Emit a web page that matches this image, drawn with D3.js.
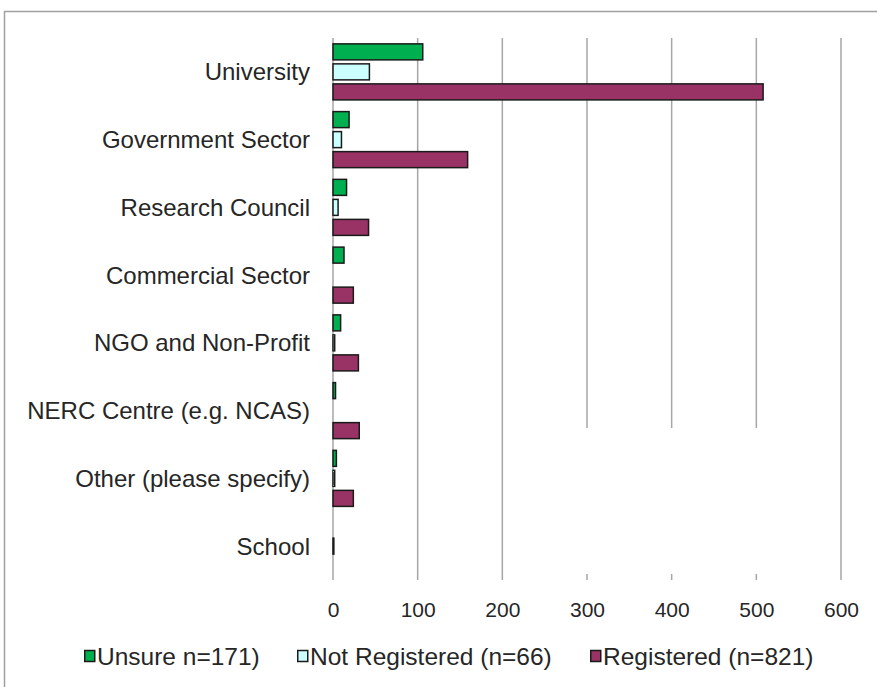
<!DOCTYPE html>
<html>
<head>
<meta charset="utf-8">
<script src="https://cdn.jsdelivr.net/npm/d3@7"></script>
<style>
  html, body { margin: 0; padding: 0; background: #fff; }
  svg { display: block; font-family: "Liberation Sans", Arial, sans-serif; }
</style>
</head>
<body>
<svg id="chart" width="877" height="687"></svg>
<script>
// Organisation types, top to bottom
const categories = [
  "University",
  "Government Sector",
  "Research Council",
  "Commercial Sector",
  "NGO and Non-Profit",
  "NERC Centre (e.g. NCAS)",
  "Other (please specify)",
  "School"
];

// Respondent counts per registration status
const unsure        = [106, 19, 16, 13, 9, 3, 4, 0];
const notRegistered = [43, 10, 6, 0, 2, 0, 2, 1];
const registered    = [508, 159, 42, 24, 30, 31, 24, 0];

const seriesNames  = ["Unsure n=171)", "Not Registered (n=66)", "Registered (n=821)"];
const seriesColors = ["#00b050", "#ccffff", "#993366"];
const xTicks = [0, 100, 200, 300, 400, 500, 600];

const seriesValues = [unsure, notRegistered, registered];

const svg = d3.select("#chart");
const textColor = "#262626";
const gridColor = "#a6a6a6";

// outer frame
svg.append("rect")
  .attr("x", 4.5).attr("y", 11.5)
  .attr("width", 900).attr("height", 700)
  .attr("fill", "none")
  .attr("stroke", "#a0a0a0")
  .attr("stroke-width", 1.5);

const plotTop = 38, plotBottom = 580;
const x = d3.scaleLinear().domain([0, 600]).range([333, 841]);
const y = d3.scaleBand().domain(categories).range([plotTop, plotBottom])
  .paddingInner(0.173).paddingOuter(0.0865);
const ySub = d3.scaleBand().domain(d3.range(seriesNames.length))
  .range([0, y.bandwidth()]).paddingInner(0.2).paddingOuter(0);

// vertical gridlines
svg.append("g").selectAll("line")
  .data(xTicks.slice(1))
  .join("line")
  .attr("x1", d => x(d)).attr("x2", d => x(d))
  .attr("y1", plotTop).attr("y2", plotBottom)
  .attr("stroke", gridColor)
  .attr("stroke-width", 1.5);

// cleared area in the lower middle of the plot
svg.append("rect")
  .attr("x", 540).attr("y", 428)
  .attr("width", 250).attr("height", 146)
  .attr("fill", "#fff");

// category axis line
svg.append("line")
  .attr("x1", x(0)).attr("x2", x(0))
  .attr("y1", plotTop).attr("y2", plotBottom)
  .attr("stroke", gridColor)
  .attr("stroke-width", 1.5);

// bars
const groups = svg.append("g").selectAll("g")
  .data(categories)
  .join("g")
  .attr("transform", d => `translate(0,${y(d)})`);

groups.selectAll("rect")
  .data((c, i) => seriesValues.map((vals, s) => ({ s, v: vals[i] })))
  .join("rect")
  .filter(d => d.v > 0)
  .attr("x", x(0))
  .attr("y", d => ySub(d.s))
  .attr("width", d => x(d.v) - x(0))
  .attr("height", ySub.bandwidth())
  .attr("fill", d => seriesColors[d.s])
  .attr("stroke", "#1a1a1a")
  .attr("stroke-width", 1.5);

// category labels
svg.append("g").selectAll("text")
  .data(categories)
  .join("text")
  .attr("x", 310)
  .attr("y", d => y(d) + y.bandwidth() / 2)
  .attr("text-anchor", "end")
  .attr("dominant-baseline", "central")
  .attr("font-size", 24)
  .attr("fill", textColor)
  .text(d => d);

// value axis labels
const xAxis = d3.axisBottom(x).tickValues(xTicks).tickSize(0).tickPadding(0);
const xg = svg.append("g")
  .attr("transform", `translate(0,${plotBottom + 22})`)
  .call(xAxis);
xg.select(".domain").remove();
xg.selectAll("text")
  .attr("font-size", 21)
  .attr("font-family", "Liberation Sans, Arial, sans-serif")
  .attr("fill", textColor);

// legend
const legendX = [84, 297, 590];
const legend = svg.append("g").selectAll("g")
  .data(seriesNames)
  .join("g")
  .attr("transform", (d, i) => `translate(${legendX[i]},656)`);

legend.append("rect")
  .attr("x", 0.75).attr("y", -5.5)
  .attr("width", 10).attr("height", 11)
  .attr("fill", (d, i) => seriesColors[i])
  .attr("stroke", "#1a1a1a")
  .attr("stroke-width", 1.5);

legend.append("text")
  .attr("x", 13)
  .attr("y", 0)
  .attr("dominant-baseline", "central")
  .attr("font-size", 24.5)
  .attr("fill", textColor)
  .text(d => d);
</script>
</body>
</html>
